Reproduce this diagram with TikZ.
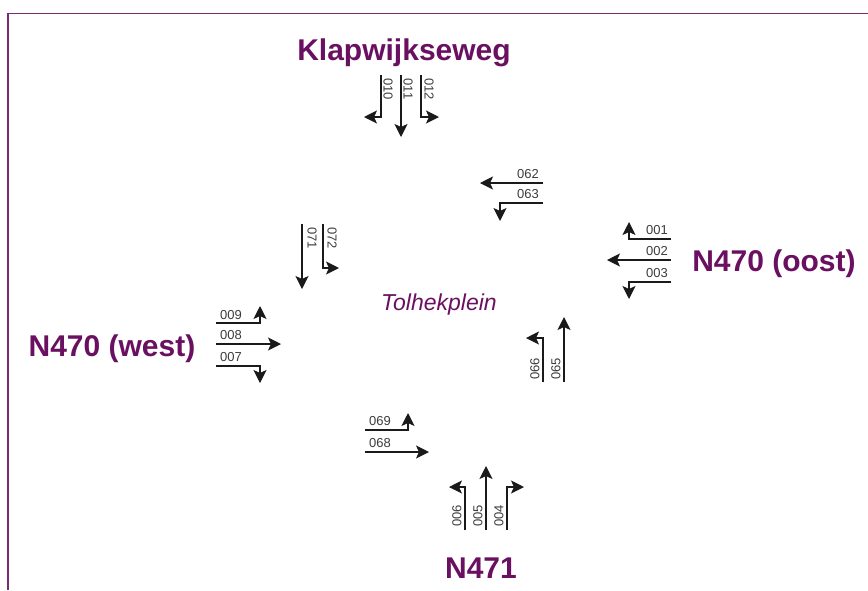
\documentclass[tikz,border=0pt]{standalone}
\usepackage{fontspec}
\setmainfont{Liberation Sans}
\usetikzlibrary{arrows.meta}
\definecolor{framepurple}{HTML}{7A2A72}
\definecolor{roadpurple}{HTML}{6A1060}
\definecolor{laneink}{HTML}{1A1A1A}
\begin{document}
\begin{tikzpicture}[x=1pt,y=-1pt,
  lane/.style={draw=laneink, line width=1.2pt, line join=miter,
    -{Stealth[length=13pt,width=13pt,inset=3pt]}},
  lanelbl/.style={font=\fontsize{13}{13}\selectfont, text=laneink!85, inner sep=0pt},
  roadname/.style={font=\fontsize{30}{30}\selectfont\bfseries, text=roadpurple,
    inner sep=0pt, anchor=base},
  squarename/.style={font=\fontsize{23}{23}\selectfont\itshape, text=roadpurple,
    inner sep=0pt, anchor=base}]
\useasboundingbox (0,0) rectangle (868,590);
\draw[framepurple, line width=1.5pt] (8,590) -- (8,13.5) -- (868,13.5);

% road names
\node[roadname] (klap) at (404,60) {Klapwijkseweg};
\node[roadname] (oost) at (774,271) {N470 (oost)};
\node[roadname] (west) at (112,356) {N470 (west)};
\node[roadname] (n471) at (481,578) {N471};
\node[squarename] (plein) at (439,310) {Tolhekplein};

% Klapwijkseweg approach
\coordinate (a010) at (381,75);  \coordinate (b010) at (381,117); \coordinate (c010) at (364,117);
\coordinate (a011) at (401,75);  \coordinate (c011) at (401,137);
\coordinate (a012) at (421,75);  \coordinate (b012) at (421,117); \coordinate (c012) at (439,117);
\draw[lane] (a010) -- (b010) -- (c010);
\draw[lane] (a011) -- (c011);
\draw[lane] (a012) -- (b012) -- (c012);
\node[lanelbl, rotate=-90] (l010) at (388,89) {010};
\node[lanelbl, rotate=-90] (l011) at (408,89) {011};
\node[lanelbl, rotate=-90] (l012) at (429,89) {012};

% inner lanes 071 / 072
\coordinate (a071) at (302,224); \coordinate (c071) at (302,289);
\coordinate (a072) at (323,224); \coordinate (b072) at (323,268); \coordinate (c072) at (339,268);
\draw[lane] (a071) -- (c071);
\draw[lane] (a072) -- (b072) -- (c072);
\node[lanelbl, rotate=-90] (l071) at (312,238) {071};
\node[lanelbl, rotate=-90] (l072) at (332,238) {072};

% inner lanes 062 / 063
\coordinate (a062) at (543,183); \coordinate (c062) at (480,183);
\coordinate (a063) at (543,203); \coordinate (b063) at (500,203); \coordinate (c063) at (500,221);
\draw[lane] (a062) -- (c062);
\draw[lane] (a063) -- (b063) -- (c063);
\node[lanelbl] (l062) at (528,174) {062};
\node[lanelbl] (l063) at (528,194) {063};

% N470 (oost) approach
\coordinate (a001) at (671,239); \coordinate (b001) at (629,239); \coordinate (c001) at (629,222);
\coordinate (a002) at (671,260); \coordinate (c002) at (607,260);
\coordinate (a003) at (671,282); \coordinate (b003) at (629,282); \coordinate (c003) at (629,299);
\draw[lane] (a001) -- (b001) -- (c001);
\draw[lane] (a002) -- (c002);
\draw[lane] (a003) -- (b003) -- (c003);
\node[lanelbl] (l001) at (657,230) {001};
\node[lanelbl] (l002) at (657,251) {002};
\node[lanelbl] (l003) at (657,273) {003};

% N470 (west) approach
\coordinate (a009) at (216,323); \coordinate (b009) at (260,323); \coordinate (c009) at (260,306);
\coordinate (a008) at (216,344); \coordinate (c008) at (281,344);
\coordinate (a007) at (216,366); \coordinate (b007) at (260,366); \coordinate (c007) at (260,383);
\draw[lane] (a009) -- (b009) -- (c009);
\draw[lane] (a008) -- (c008);
\draw[lane] (a007) -- (b007) -- (c007);
\node[lanelbl] (l009) at (231,315) {009};
\node[lanelbl] (l008) at (231,335) {008};
\node[lanelbl] (l007) at (231,357) {007};

% inner lanes 066 / 065
\coordinate (a066) at (543,382); \coordinate (b066) at (543,338); \coordinate (c066) at (526,338);
\coordinate (a065) at (564,382); \coordinate (c065) at (564,317);
\draw[lane] (a066) -- (b066) -- (c066);
\draw[lane] (a065) -- (c065);
\node[lanelbl, rotate=90] (l066) at (535,369) {066};
\node[lanelbl, rotate=90] (l065) at (556,369) {065};

% inner lanes 069 / 068
\coordinate (a069) at (365,430); \coordinate (b069) at (408,430); \coordinate (c069) at (408,413);
\coordinate (a068) at (365,452); \coordinate (c068) at (429,452);
\draw[lane] (a069) -- (b069) -- (c069);
\draw[lane] (a068) -- (c068);
\node[lanelbl] (l069) at (380,421) {069};
\node[lanelbl] (l068) at (380,443) {068};

% N471 approach
\coordinate (a006) at (465,530); \coordinate (b006) at (465,487); \coordinate (c006) at (449,487);
\coordinate (a005) at (486,530); \coordinate (c005) at (486,466);
\coordinate (a004) at (507,530); \coordinate (b004) at (507,487); \coordinate (c004) at (524,487);
\draw[lane] (a006) -- (b006) -- (c006);
\draw[lane] (a005) -- (c005);
\draw[lane] (a004) -- (b004) -- (c004);
\node[lanelbl, rotate=90] (l006) at (457,516) {006};
\node[lanelbl, rotate=90] (l005) at (478,516) {005};
\node[lanelbl, rotate=90] (l004) at (499,516) {004};
\end{tikzpicture}
\end{document}
